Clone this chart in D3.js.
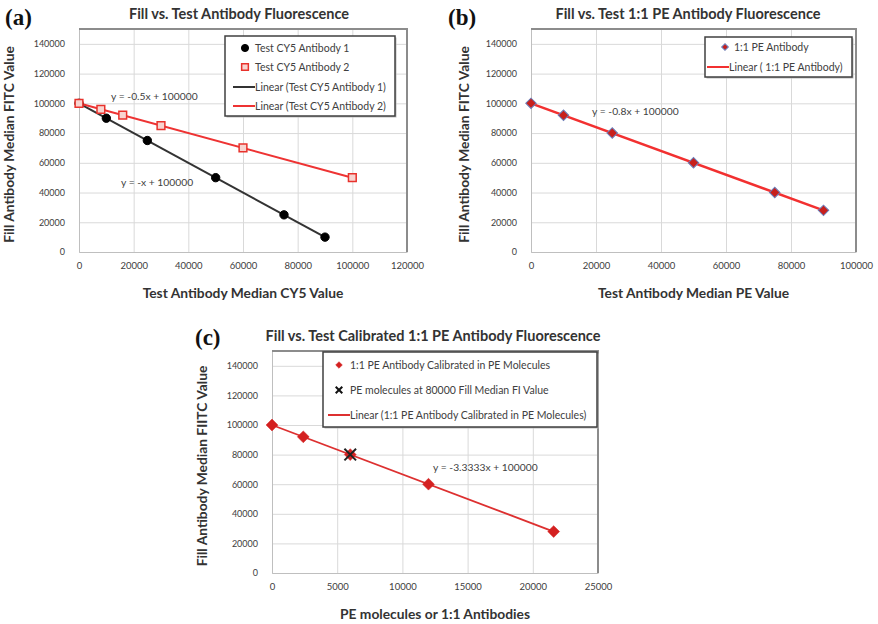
<!DOCTYPE html>
<html>
<head>
<meta charset="utf-8">
<script src="https://cdn.jsdelivr.net/npm/d3@7"></script>
<style>
  body { margin: 0; background: #fff; }
  text { font-family: Lato, "Open Sans", sans-serif; }
</style>
</head>
<body>
<script>
'use strict';

// données
const yTicks = [0, 20000, 40000, 60000, 80000, 100000, 120000, 140000];
const xTicksA = [0, 20000, 40000, 60000, 80000, 100000, 120000];
const xTicksB = [0, 20000, 40000, 60000, 80000, 100000];
const xTicksC = [0, 5000, 10000, 15000, 20000, 25000];

const cy5Ab1X = [0, 10000, 25000, 50000, 75000, 90000];
const cy5Ab1Y = [100000, 90000, 75000, 50000, 25000, 10000];
const cy5Ab2X = [0, 8000, 16000, 30000, 60000, 100000];
const cy5Ab2Y = [100000, 96000, 92000, 85000, 70000, 50000];

const peAbX = [0, 10000, 25000, 50000, 75000, 90000];
const peAbY = [100000, 92000, 80000, 60000, 40000, 28000];

const calX = [0, 2400, 6000, 12000, 21600];
const calY = [100000, 92000, 80000, 60000, 28000];
const crossX = [6000];
const crossY = [80000];

// pentes des droites de tendance (ordonnée à l'origine 100000)
const slopes = { ab1: -1, ab2: -0.5, pe: -0.8, cal: -3.3333 };
const intercept = 100000;

const svg = d3.select("body").append("svg")
  .attr("width", 878)
  .attr("height", 624);

const pts = (xs, ys) => xs.map((d, i) => ({x: d, y: ys[i]}));

function panel(p) {
  const x = d3.scaleLinear().domain(p.xDomain).range([p.left, p.right]);
  const y = d3.scaleLinear().domain([0, 150000]).range([p.bottom, p.top]);
  const g = svg.append("g");

  // grille
  g.append("g")
    .attr("transform", `translate(0,${p.bottom})`)
    .call(d3.axisBottom(x).tickValues(p.xTicks).tickSize(p.top - p.bottom).tickFormat(""))
    .call(s => s.select(".domain").remove())
    .selectAll("line").attr("stroke", "#d9d9d9");
  g.append("g")
    .attr("transform", `translate(${p.left},0)`)
    .call(d3.axisLeft(y).tickValues(yTicks).tickSize(p.left - p.right).tickFormat(""))
    .call(s => s.select(".domain").remove())
    .selectAll("line").attr("stroke", "#d9d9d9");

  // axes
  g.append("g")
    .attr("transform", `translate(0,${p.bottom})`)
    .call(d3.axisBottom(x).tickValues(p.xTicks).tickSize(0).tickPadding(10).tickFormat(d3.format("d")))
    .call(s => s.select(".domain").attr("stroke", "#bfbfbf"))
    .selectAll("text").style("font-size", "9.5px").attr("fill", "#404040")
    .style("font-family", "Lato, sans-serif");
  g.append("g")
    .attr("transform", `translate(${p.left},0)`)
    .call(d3.axisLeft(y).tickValues(yTicks).tickSize(0).tickPadding(14).tickFormat(d3.format("d")))
    .call(s => s.select(".domain").attr("stroke", "#bfbfbf"))
    .selectAll("text").style("font-size", "9px").attr("fill", "#404040")
    .style("font-family", "Lato, sans-serif");

  // cadre haut et droite
  g.append("path")
    .attr("d", `M${p.left},${p.top}H${p.right}V${p.bottom}`)
    .attr("fill", "none").attr("stroke", "#8c8c8c").attr("stroke-width", 2);

  // titres
  g.append("text").attr("x", p.titleX).attr("y", p.top - 10)
    .attr("text-anchor", "middle").attr("font-size", 14.5).attr("font-weight", "bold")
    .attr("fill", "#333").text(p.title);
  g.append("text").attr("x", (p.left + p.right) / 2).attr("y", p.bottom + 46)
    .attr("text-anchor", "middle").attr("font-size", 13.8).attr("font-weight", "bold")
    .attr("fill", "#333").text(p.xTitle);
  g.append("text")
    .attr("transform", `translate(${p.yTitleX},${(p.top + p.bottom) / 2 + 4}) rotate(-90)`)
    .attr("text-anchor", "middle").attr("font-size", 13.8).attr("font-weight", "bold")
    .attr("fill", "#333").text(p.yTitle);
  g.append("text").attr("x", p.labelX).attr("y", p.labelY)
    .style("font-family", "'Liberation Serif', 'DejaVu Serif', serif").attr("font-size", 23)
    .attr("font-weight", "bold").attr("fill", "#111").text(p.label);

  return {g, x, y};
}

function trend(c, xs, slope, color, width) {
  const ext = d3.extent(xs);
  c.g.append("path")
    .datum(ext.map(v => ({x: v, y: slope * v + intercept})))
    .attr("d", d3.line().x(d => c.x(d.x)).y(d => c.y(d.y)))
    .attr("fill", "none").attr("stroke", color).attr("stroke-width", width);
}

function markers(c, data, sym, size, fill, stroke, sw, rot) {
  c.g.selectAll(null).data(data).enter().append("path")
    .attr("d", d3.symbol().type(sym).size(size))
    .attr("transform", d => `translate(${c.x(d.x)},${c.y(d.y)}) rotate(${rot || 0})`)
    .attr("fill", fill).attr("stroke", stroke).attr("stroke-width", sw);
}

function legend(c, box, items) {
  c.g.append("rect").attr("x", box[0] + 1.5).attr("y", box[1] + 1.5)
    .attr("width", box[2]).attr("height", box[3]).attr("fill", "#bbb");
  c.g.append("rect").attr("x", box[0]).attr("y", box[1])
    .attr("width", box[2]).attr("height", box[3])
    .attr("fill", "#fff").attr("stroke", "#404040").attr("stroke-width", 1.5);
  items.forEach(it => {
    if (it.line) {
      c.g.append("line").attr("x1", it.mx - 11).attr("x2", it.mx + 11)
        .attr("y1", it.y).attr("y2", it.y).attr("stroke", it.line).attr("stroke-width", 2);
    } else {
      c.g.append("path").attr("d", d3.symbol().type(it.sym).size(it.size))
        .attr("transform", `translate(${it.mx},${it.y}) rotate(${it.rot || 0})`)
        .attr("fill", it.fill).attr("stroke", it.stroke).attr("stroke-width", it.sw);
    }
    c.g.append("text").attr("x", it.tx).attr("y", it.y).attr("dy", "0.35em")
      .attr("font-size", 10.5).attr("fill", "#404040").text(it.text);
  });
}

function equation(c, px, py, txt) {
  c.g.append("text").attr("x", px).attr("y", py).attr("dy", "0.35em")
    .attr("font-size", 10.3).attr("fill", "#404040").text(txt);
}

// (a)
const a = panel({
  left: 79, right: 407, top: 29, bottom: 252, xDomain: [0, 120000], xTicks: xTicksA,
  title: "Fill vs. Test Antibody Fluorescence", titleX: 239,
  xTitle: "Test Antibody Median CY5 Value", yTitle: "Fill Antibody Median FITC  Value",
  yTitleX: 14, label: "(a)", labelX: 5, labelY: 25
});
trend(a, cy5Ab1X, slopes.ab1, "#333", 2);
trend(a, cy5Ab2X, slopes.ab2, "#ee3333", 2);
markers(a, pts(cy5Ab1X, cy5Ab1Y), d3.symbolCircle, 55, "#000", "#000", 1);
markers(a, pts(cy5Ab2X, cy5Ab2Y), d3.symbolSquare, 60, "#f8d4d0", "#e8322c", 1.5);
legend(a, [225, 36, 170, 80], [
  {mx: 245, y: 48, tx: 255, sym: d3.symbolCircle, size: 40, fill: "#000", stroke: "#000", sw: 1, text: "Test CY5 Antibody 1"},
  {mx: 245, y: 67, tx: 255, sym: d3.symbolSquare, size: 45, fill: "#f8d4d0", stroke: "#e8322c", sw: 1.5, text: "Test CY5 Antibody 2"},
  {mx: 244, y: 87, tx: 255, line: "#333", text: "Linear (Test CY5 Antibody 1)"},
  {mx: 244, y: 106, tx: 255, line: "#ee3333", text: "Linear (Test CY5 Antibody 2)"}
]);
equation(a, 111, 96, "y = -0.5x + 100000");
equation(a, 121, 182, "y = -x + 100000");

// (b)
const b = panel({
  left: 531, right: 856, top: 29, bottom: 252, xDomain: [0, 100000], xTicks: xTicksB,
  title: "Fill vs. Test 1:1 PE Antibody Fluorescence", titleX: 688,
  xTitle: "Test Antibody Median PE Value", yTitle: "Fill Antibody Median FITC Value",
  yTitleX: 469, label: "(b)", labelX: 448, labelY: 25
});
trend(b, peAbX, slopes.pe, "#f23030", 2.5);
markers(b, pts(peAbX, peAbY), d3.symbolSquare, 55, "#c8201c", "#6a7db8", 1, 45);
legend(b, [705, 37, 147, 40], [
  {mx: 725, y: 47, tx: 734, sym: d3.symbolSquare, size: 22, fill: "#c8201c", stroke: "#6a7db8", sw: 1, rot: 45, text: "1:1 PE Antibody"},
  {mx: 718, y: 67, tx: 729, line: "#f23030", text: "Linear ( 1:1 PE Antibody)"}
]);
equation(b, 592, 111, "y = -0.8x + 100000");

// (c)
const c = panel({
  left: 272, right: 598, top: 351, bottom: 573, xDomain: [0, 25000], xTicks: xTicksC,
  title: "Fill vs. Test Calibrated 1:1 PE Antibody Fluorescence", titleX: 433,
  xTitle: "PE molecules or 1:1 Antibodies", yTitle: "Fill Antibody Median FIITC Value",
  yTitleX: 207, label: "(c)", labelX: 195, labelY: 345
});
trend(c, calX, slopes.cal, "#dd3030", 1.8);
markers(c, pts(calX, calY), d3.symbolSquare, 70, "#d42020", "#d42020", 0.5, 45);
markers(c, pts(crossX, crossY), d3.symbolX, 90, "none", "#222", 2);
legend(c, [323, 352, 274, 75], [
  {mx: 339, y: 365, tx: 350, sym: d3.symbolSquare, size: 22, fill: "#d42020", stroke: "#d42020", sw: 0.5, rot: 45, text: "1:1 PE Antibody Calibrated in PE Molecules"},
  {mx: 339, y: 390, tx: 350, sym: d3.symbolX, size: 30, fill: "none", stroke: "#111", sw: 2, text: "PE molecules at 80000 Fill Median FI Value"},
  {mx: 339, y: 415, tx: 350, line: "#dd3030", text: "Linear (1:1 PE Antibody Calibrated in PE Molecules)"}
]);
equation(c, 433, 467, "y = -3.3333x + 100000");
</script>
</body>
</html>
